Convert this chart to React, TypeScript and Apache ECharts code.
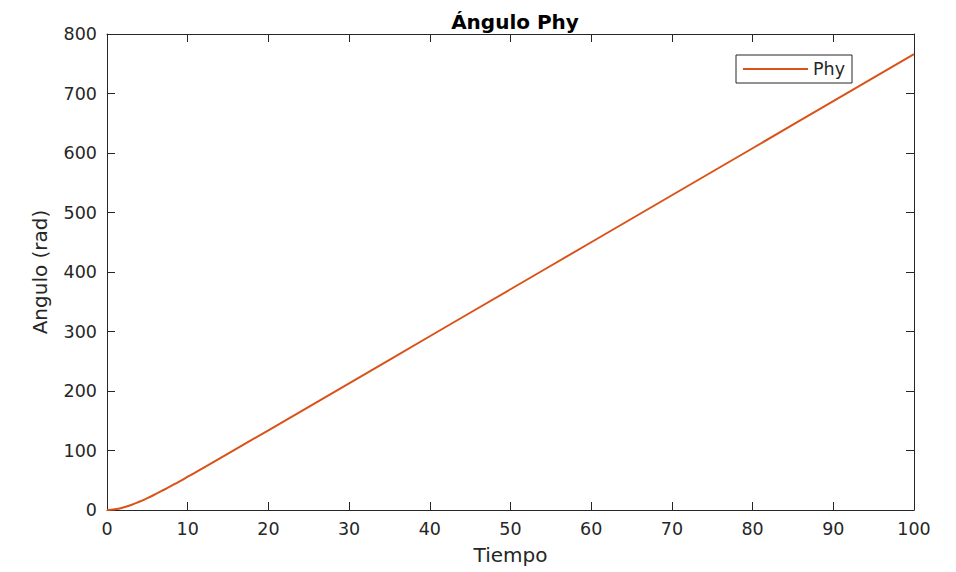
import React, { useEffect, useRef } from "react";
import * as echarts from "echarts";

const tiempo = [0, 1, 2, 3, 4, 5, 6, 7, 8, 9, 10, 12, 15, 20, 30, 40, 50, 60, 70, 80, 90, 100];
const phy = [0, 1.1, 4.1, 8.5, 13.9, 20, 26.6, 33.6, 40.9, 48.3, 55.9, 71.2, 94.7, 134, 213, 292, 371, 450, 529, 608, 687, 766];

const titleText = "Ángulo Phy";
const xName = "Tiempo";
const yName = "Angulo (rad)";
const seriesName = "Phy";

const axisColor = "#262626";
const lineColor = "#D95319";
const font = "'DejaVu Sans', 'Liberation Sans', Arial, sans-serif";

export default function App() {
  const ref = useRef<HTMLDivElement>(null);
  useEffect(() => {
    if (!ref.current) return;
    const chart = echarts.init(ref.current, undefined, { renderer: "svg" });
    const common = {
      type: "value" as const,
      splitLine: { show: false },
      axisLine: { show: true, onZero: false, lineStyle: { color: axisColor, width: 1 } },
      axisTick: { show: true, inside: true, length: 8, lineStyle: { color: axisColor, width: 1 } },
    };
    chart.setOption({
      animation: false,
      backgroundColor: "#ffffff",
      textStyle: { fontFamily: font },
      title: {
        text: titleText,
        left: 510,
        top: 7,
        textAlign: "center",
        textStyle: { fontFamily: font, fontSize: 20, fontWeight: "bold", color: "#000" },
      },
      legend: {
        show: true,
        left: 736,
        top: 55,
        orient: "vertical",
        padding: [5, 7, 5, 7],
        itemWidth: 65,
        itemHeight: 2,
        icon: "rect",
        borderColor: axisColor,
        borderWidth: 1,
        backgroundColor: "#fff",
        textStyle: { fontFamily: font, fontSize: 17.5, lineHeight: 18, color: axisColor },
        data: [seriesName],
      },
      grid: { left: 107, right: 42, top: 34, bottom: 62 },
      xAxis: [
        {
          ...common,
          position: "bottom",
          min: 0,
          max: 100,
          interval: 10,
          name: xName,
          nameLocation: "middle",
          nameGap: 35,
          nameTextStyle: { fontFamily: font, fontSize: 20, color: axisColor },
          axisLabel: { fontFamily: font, fontSize: 17.5, color: axisColor, margin: 10 },
        },
        {
          ...common,
          position: "top",
          min: 0,
          max: 100,
          interval: 10,
          axisLabel: { show: false },
        },
      ],
      yAxis: [
        {
          ...common,
          position: "left",
          min: 0,
          max: 800,
          interval: 100,
          name: yName,
          nameLocation: "middle",
          nameGap: 57,
          nameTextStyle: { fontFamily: font, fontSize: 20, color: axisColor },
          axisLabel: { fontFamily: font, fontSize: 17.5, color: axisColor, margin: 10 },
        },
        {
          ...common,
          position: "right",
          min: 0,
          max: 800,
          interval: 100,
          axisLabel: { show: false },
        },
      ],
      series: [
        {
          name: seriesName,
          type: "line",
          xAxisIndex: 0,
          yAxisIndex: 0,
          symbol: "none",
          smooth: true,
          lineStyle: { color: lineColor, width: 2 },
          itemStyle: { color: lineColor },
          data: tiempo.map((t, i) => [t, phy[i]]),
        },
      ],
    });
    return () => chart.dispose();
  }, []);
  return (
    <div
      ref={ref}
      style={{ position: "fixed", left: 0, top: 0, width: 956, height: 572 }}
    />
  );
}
